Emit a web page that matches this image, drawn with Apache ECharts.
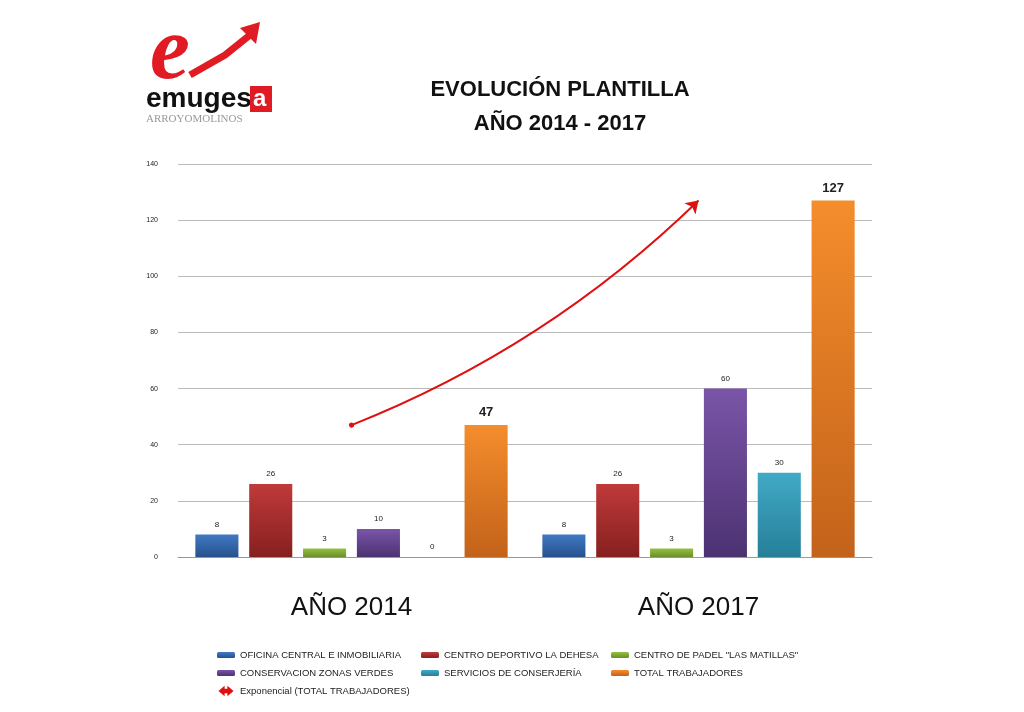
<!DOCTYPE html>
<html><head><meta charset="utf-8">
<script src="https://cdn.jsdelivr.net/npm/echarts@6/dist/echarts.min.js"></script>
<style>html,body{margin:0;background:#fff}#c{width:1024px;height:712px}</style>
</head><body><div id="c"></div>
<script>
const years = ['AÑO 2014', 'AÑO 2017'];
const seriesNames = ['OFICINA CENTRAL E INMOBILIARIA', 'CENTRO DEPORTIVO LA DEHESA', 'CENTRO DE PADEL "LAS MATILLAS"',
  'CONSERVACION ZONAS VERDES', 'SERVICIOS DE CONSERJERÍA', 'TOTAL TRABAJADORES'];
const values = [[8, 8], [26, 26], [3, 3], [10, 60], [0, 30], [47, 127]];
const trendName = 'Exponencial (TOTAL TRABAJADORES)';
const colors = [['#4079c4', '#27518c'], ['#c03a3a', '#85201f'], ['#96c043', '#6a8f2a'],
  ['#7a55a8', '#4c3272'], ['#41aac6', '#267f98'], ['#f48d2c', '#c3621a']];

const chart = echarts.init(document.getElementById('c'));
const grad = c => new echarts.graphic.LinearGradient(0, 0, 0, 1, [{offset: 0, color: c[0]}, {offset: 1, color: c[1]}]);

const bars = seriesNames.map((n, i) => ({
  name: n, type: 'bar', data: values[i], barGap: '25%', barCategoryGap: '10%',
  itemStyle: {color: grad(colors[i])},
  label: {show: true, position: 'top', color: '#222', distance: 6,
    fontSize: i === 5 ? 13 : 8, fontWeight: i === 5 ? 'bold' : 'normal'}
}));

const legendText = {fontSize: 9.5, color: '#222', fontFamily: 'Liberation Sans'};
const legendCol = (left, data) => ({left, top: 645, orient: 'vertical', itemGap: 8, itemWidth: 18, itemHeight: 6,
  data, textStyle: legendText, selectedMode: false});

chart.setOption({
  animation: false,
  title: {text: 'EVOLUCIÓN PLANTILLA\nAÑO 2014 - 2017', left: 555, top: 68, textAlign: 'center',
    textStyle: {fontSize: 22, fontWeight: 'bold', lineHeight: 34, color: '#111', fontFamily: 'Liberation Sans'}},
  grid: {left: 178, right: 152, top: 164, bottom: 155},
  legend: [
    legendCol(212, [seriesNames[0], seriesNames[3], {name: trendName, icon: 'path://M0,5L6,0L6,3L14,3L14,0L20,5L14,10L14,7L6,7L6,10Z', itemStyle: {color: '#e01010'}}]),
    legendCol(416, [seriesNames[1], seriesNames[4]]),
    legendCol(606, [seriesNames[2], seriesNames[5]])
  ],
  xAxis: {type: 'category', data: years, axisTick: {show: false},
    axisLine: {lineStyle: {color: '#999'}},
    axisLabel: {fontSize: 26, color: '#111', margin: 38, fontFamily: 'Liberation Sans'}},
  yAxis: {type: 'value', min: 0, max: 140, interval: 20,
    axisLabel: {fontSize: 7, color: '#222', margin: 20},
    splitLine: {lineStyle: {color: '#bbb'}}},
  series: [...bars, {
    name: trendName, type: 'lines', coordinateSystem: 'cartesian2d', z: 5,
    symbol: ['circle', 'arrow'], symbolSize: [5, 12],
    lineStyle: {color: '#e01010', width: 2, curveness: -0.1, opacity: 1},
    itemStyle: {color: '#e01010'},
    data: [{coords: [[years[0], values[5][0]], [years[1], values[5][1]]]}]
  }],
  graphic: [
    {type: 'text', left: 146, top: 85, style: {text: 'emuges', fontSize: 28, fontWeight: 'bold', fill: '#111', fontFamily: 'Liberation Sans'}},
    {type: 'rect', left: 250, top: 86, shape: {width: 22, height: 26}, style: {fill: '#e01b24'}},
    {type: 'text', left: 253, top: 87, style: {text: 'a', fontSize: 24, fontWeight: 'bold', fill: '#fff', fontFamily: 'Liberation Sans'}},
    {type: 'text', left: 146, top: 114, style: {text: 'ARROYOMOLINOS', fontSize: 11, fill: '#999', fontFamily: 'Liberation Serif', letterSpacing: 2}},
    {type: 'text', left: 150, top: 10, style: {text: 'e', fontSize: 90, fontStyle: 'italic', fontWeight: 'bold', fill: '#e01b24', fontFamily: 'Liberation Serif'}},
    {type: 'polyline', shape: {points: [[190, 75], [225, 55], [250, 35]]}, style: {stroke: '#e01b24', lineWidth: 7, fill: 'none'}},
    {type: 'polygon', shape: {points: [[240, 28], [260, 22], [256, 44]]}, style: {fill: '#e01b24'}}
  ]
});
</script></body></html>
